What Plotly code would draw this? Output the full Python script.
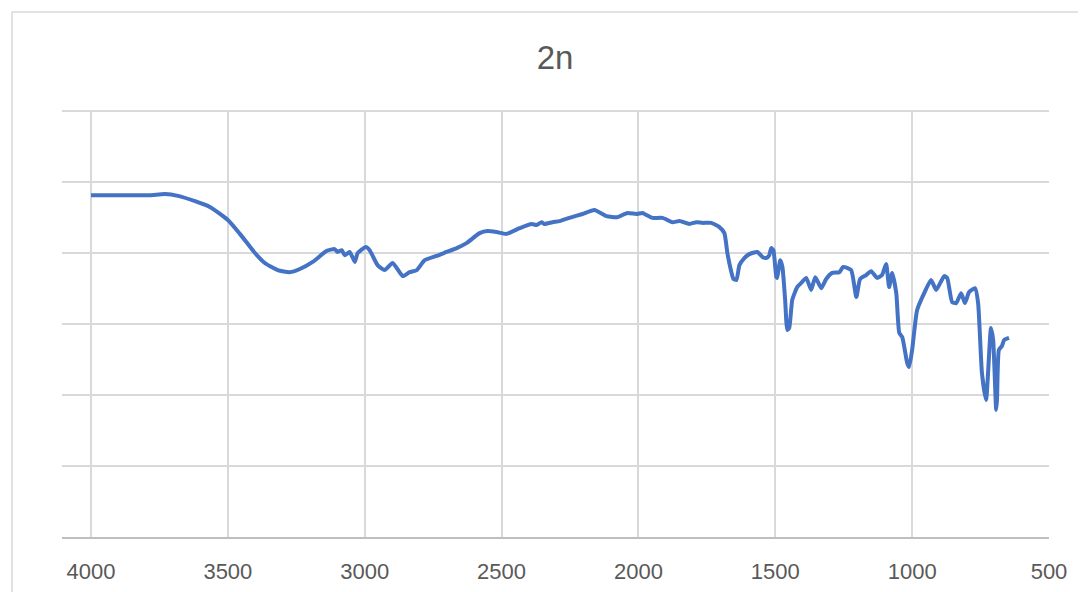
import plotly.graph_objects as go

title_text = "2n"

wavenumber = [4000, 3894, 3785, 3730, 3682, 3620, 3566, 3500, 3456, 3401,
              3365, 3318, 3274, 3237, 3190, 3139, 3110, 3099, 3084, 3073,
              3055, 3036, 3026, 2996, 2982, 2953, 2927, 2898, 2861, 2836,
              2810, 2781, 2737, 2701, 2664, 2628, 2580, 2551, 2518, 2482,
              2434, 2391, 2372, 2354, 2343, 2314, 2288, 2252, 2204, 2161,
              2117, 2077, 2040, 2007, 1985, 1971, 1949, 1912, 1876, 1850,
              1814, 1788, 1766, 1734, 1704, 1686, 1675, 1664, 1653, 1642,
              1631, 1613, 1595, 1566, 1547, 1533, 1522, 1515, 1507, 1496,
              1493, 1482, 1474, 1464, 1456, 1449, 1438, 1420, 1405, 1387,
              1369, 1354, 1332, 1314, 1292, 1266, 1252, 1223, 1204, 1190,
              1168, 1150, 1128, 1110, 1095, 1084, 1073, 1058, 1047, 1036,
              1018, 1011, 1000, 982, 956, 931, 912, 883, 872, 854,
              839, 821, 807, 792, 770, 759, 745, 730, 712, 704,
              693, 690, 683, 672, 664, 646]

transmittance = [96.3, 96.3, 96.3, 96.6, 96.1, 94.6, 93.0, 89.3, 85.4, 80.0,
                 77.2, 75.2, 74.6, 75.5, 77.5, 80.6, 81.1, 80.3, 80.8, 79.4,
                 80.3, 77.5, 80.0, 81.7, 80.8, 76.6, 75.2, 77.2, 73.5, 74.6,
                 75.2, 78.0, 79.2, 80.3, 81.4, 82.8, 85.6, 86.2, 85.9, 85.4,
                 87.0, 88.2, 87.9, 88.7, 88.2, 88.7, 89.0, 89.9, 91.0, 92.1,
                 90.4, 90.1, 91.3, 91.0, 91.3, 90.7, 89.9, 89.9, 88.7, 89.0,
                 88.2, 88.7, 88.5, 88.5, 87.3, 85.6, 80.0, 75.8, 72.7, 72.4,
                 76.6, 78.6, 79.7, 80.3, 78.9, 78.6, 79.4, 81.4, 80.8, 73.2,
                 73.0, 78.0, 76.1, 66.8, 58.3, 58.9, 66.8, 70.4, 71.6, 73.0,
                 69.6, 73.2, 70.1, 72.7, 74.4, 74.6, 76.1, 75.2, 67.6, 72.7,
                 73.8, 74.9, 73.0, 73.8, 76.9, 70.4, 74.4, 68.7, 57.5, 56.3,
                 49.0, 47.9, 52.7, 63.9, 68.7, 72.4, 69.6, 73.5, 73.0, 66.2,
                 65.9, 68.7, 65.9, 69.0, 70.1, 65.9, 46.2, 38.6, 58.9, 55.5,
                 35.8, 38.6, 52.7, 53.8, 55.5, 56.1]

x_ticks = [4000, 3500, 3000, 2500, 2000, 1500, 1000, 500]
x_tick_labels = ["4000", "3500", "3000", "2500", "2000", "1500", "1000", "500"]
y_grid = [0, 20, 40, 60, 80, 100, 120]

# page body has an 8px margin; figure coordinates are offset accordingly
OFF = 8
W, H = 1086, 592
L, R, T, B = 62 - OFF, 1049 - OFF, 110 - OFF, 537 - OFF

fig = go.Figure()
fig.add_trace(go.Scatter(
    x=wavenumber, y=transmittance, mode="lines",
    line=dict(color="#4472C4", width=4, shape="spline", smoothing=0.5),
    hoverinfo="x+y", showlegend=False,
))

pw = R - L
ph = B - T
fig.add_shape(type="rect", xref="paper", yref="paper",
              x0=(12 - OFF - L) / pw, x1=(W + 30 - L) / pw,
              y0=(B - (H + 30)) / ph, y1=(B - (12 - OFF)) / ph,
              line=dict(color="#d9d9d9", width=1.5), fillcolor="rgba(0,0,0,0)",
              layer="below")

fig.update_layout(
    width=W, height=H,
    margin=dict(l=L, r=W - R, t=T, b=H - B, pad=0),
    paper_bgcolor="white", plot_bgcolor="white",
    font=dict(family="Liberation Sans, Arial, sans-serif", color="#595959"),
    title=dict(text=title_text, x=(555 - OFF) / W, xanchor="center",
               y=1 - (57 - OFF) / H, yanchor="middle", yref="container",
               font=dict(size=33, color="#595959")),
    xaxis=dict(range=[4106, 500], tickvals=x_ticks, ticktext=x_tick_labels,
               showgrid=True, gridcolor="#d9d9d9", gridwidth=1.5,
               showline=True, linecolor="#bfbfbf", linewidth=1.5,
               ticks="", zeroline=False, tickfont=dict(size=22, color="#595959"),
               ticklabelstandoff=14),
    yaxis=dict(range=[0, 120.3], tickvals=y_grid,
               showticklabels=False,
               showgrid=True, gridcolor="#d9d9d9", gridwidth=1.5,
               zeroline=False, showline=False, ticks=""),
)

fig.write_html("out.html")
